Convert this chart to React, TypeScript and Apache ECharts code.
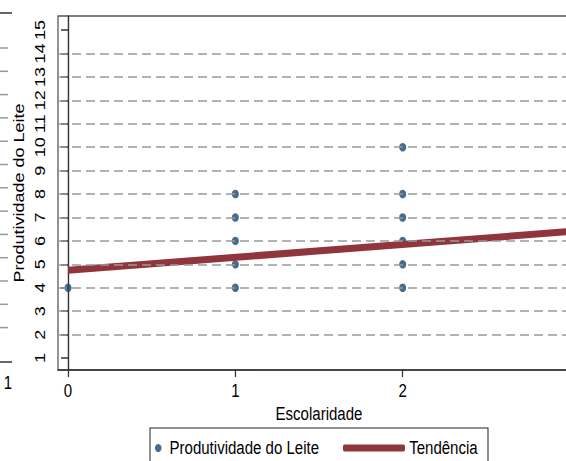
import React, { useEffect, useRef } from "react";
import * as echarts from "echarts";

// ---- data ----
const schoolingLevels = [0, 1, 1, 1, 1, 1, 2, 2, 2, 2, 2, 2];
const milkProductivity = [4, 4, 5, 6, 7, 8, 4, 5, 6, 7, 8, 10];
const trendX = [0, 3];
const trendY = [4.75, 6.4];
const yTickValues = [1, 2, 3, 4, 5, 6, 7, 8, 9, 10, 11, 12, 13, 14, 15];
const gridLineValues = [2, 3, 4, 5, 6, 7, 8, 9, 10, 11, 12, 13, 14];
const xTickValues = [0, 1, 2];
const seriesNames = ["Produtividade do Leite", "Tendência"];
const axisTitles = { x: "Escolaridade", y: "Produtividade do Leite" };

// the reference picture is squeezed horizontally; draw wide, then squeeze
const SQUEEZE = 0.835;
const VIEW_W = 566;
const VIEW_H = 461;
const CHART_W = Math.round(600 / SQUEEZE);
const sx = (v: number) => v / SQUEEZE; // screen x -> unsqueezed x

const FONT = "'Liberation Sans', Arial, sans-serif";
const NAVY = "#1a476f";
const MAROON = "#90353b";
const AXIS = "#333333";

export default function App() {
  const ref = useRef<HTMLDivElement>(null);

  useEffect(() => {
    if (!ref.current) return;
    const chart = echarts.init(ref.current, undefined, { renderer: "svg" });

    const scatterData = schoolingLevels.map((x, i) => [x, milkProductivity[i]]);
    const trendData = trendX.map((x, i) => [x, trendY[i]]);

    // decorations of the cropped neighbouring chart on the left edge
    const leftDashes: any[] = [];
    for (let i = 0; i < 13; i++) {
      const y = 48 + i * 23.3;
      leftDashes.push({
        type: "line",
        shape: { x1: 0, y1: y, x2: sx(8), y2: y },
        style: { stroke: "#999", lineWidth: 1.5 },
        silent: true,
      });
    }

    const gridLeft = sx(58);
    const gridRight = CHART_W - sx(580);

    chart.setOption({
      animation: false,
      backgroundColor: "#ffffff",
      grid: {
        left: gridLeft,
        right: gridRight,
        top: 16,
        bottom: 91,
        show: true,
        borderColor: "#555",
        borderWidth: 1.5,
        containLabel: false,
      },
      xAxis: {
        type: "value",
        min: -0.06,
        max: 3.06,
        name: axisTitles.x,
        nameLocation: "middle",
        nameGap: 23,
        nameTextStyle: { fontFamily: FONT, fontSize: 18, color: "#000" },
        axisLine: { show: true, lineStyle: { color: AXIS, width: 1.5 } },
        axisTick: { show: true, length: 7, customValues: xTickValues, lineStyle: { color: AXIS, width: 1.5 } },
        axisLabel: { customValues: xTickValues, margin: 12, fontFamily: FONT, fontSize: 18, color: "#000" },
        splitLine: { show: false },
      },
      yAxis: {
        type: "value",
        min: 0.49,
        max: 15.6,
        name: axisTitles.y,
        nameLocation: "middle",
        nameGap: sx(21),
        nameRotate: 90,
        nameTextStyle: { fontFamily: FONT, fontSize: 18, color: "#000" },
        axisLine: { show: true, lineStyle: { color: AXIS, width: 1.7 } },
        axisTick: { show: true, length: sx(7), customValues: yTickValues, lineStyle: { color: AXIS, width: 1.5 } },
        axisLabel: {
          customValues: yTickValues,
          rotate: 90,
          margin: sx(10),
          fontFamily: FONT,
          fontSize: 18,
          color: "#000",
        },
        splitLine: { show: false },
      },
      legend: [
        {
          data: [{ name: seriesNames[0], icon: "circle" }],
          left: sx(162) - 8.5,
          top: 439,
          itemWidth: 17,
          itemHeight: 8,
          padding: 0,
          textStyle: { fontFamily: FONT, fontSize: 18, color: "#000" },
          selectedMode: false,
        },
        {
          data: [{ name: seriesNames[1], icon: "roundRect" }],
          left: sx(343),
          top: 439,
          itemWidth: sx(62),
          itemHeight: 7,
          padding: 0,
          textStyle: { fontFamily: FONT, fontSize: 18, color: "#000" },
          selectedMode: false,
        },
      ],
      graphic: [
        {
          type: "rect",
          shape: { x: sx(150), y: 428, width: sx(338), height: 60 },
          style: { fill: "none", stroke: "#222", lineWidth: 1.2 },
          silent: true,
        },
        {
          type: "line",
          shape: { x1: 0, y1: 13, x2: sx(12), y2: 13 },
          style: { stroke: AXIS, lineWidth: 1.5 },
          silent: true,
        },
        {
          type: "line",
          shape: { x1: 0, y1: 362, x2: sx(12), y2: 362 },
          style: { stroke: AXIS, lineWidth: 1.5 },
          silent: true,
        },
        {
          type: "text",
          x: sx(8),
          y: 383,
          style: {
            text: "1",
            fontFamily: FONT,
            fontSize: 18,
            fill: "#000",
            align: "center",
            verticalAlign: "middle",
          },
          silent: true,
        },
        ...leftDashes,
      ],
      series: [
        {
          name: "gridlines",
          type: "line",
          data: [],
          z: 1,
          silent: true,
          markLine: {
            silent: true,
            symbol: "none",
            animation: false,
            label: { show: false },
            lineStyle: { type: [sx(9), sx(5)], color: "#999999", width: 1.6 },
            data: gridLineValues.map((v) => ({ yAxis: v })),
          },
        },
        {
          name: seriesNames[0],
          type: "scatter",
          data: scatterData,
          symbol: "circle",
          symbolSize: 8.5,
          itemStyle: { color: NAVY },
          z: 3,
        },
        {
          name: seriesNames[1],
          type: "line",
          data: trendData,
          symbol: "none",
          lineStyle: { color: MAROON, width: 7 },
          itemStyle: { color: MAROON },
          z: 4,
        },
      ],
    });

    return () => chart.dispose();
  }, []);

  return (
    <div
      style={{
        position: "fixed",
        left: 0,
        top: 0,
        width: VIEW_W,
        height: VIEW_H,
        overflow: "hidden",
        background: "#fff",
      }}
    >
      <div
        ref={ref}
        style={{
          width: CHART_W,
          height: VIEW_H,
          transform: `scaleX(${SQUEEZE})`,
          transformOrigin: "0 0",
        }}
      />
    </div>
  );
}
